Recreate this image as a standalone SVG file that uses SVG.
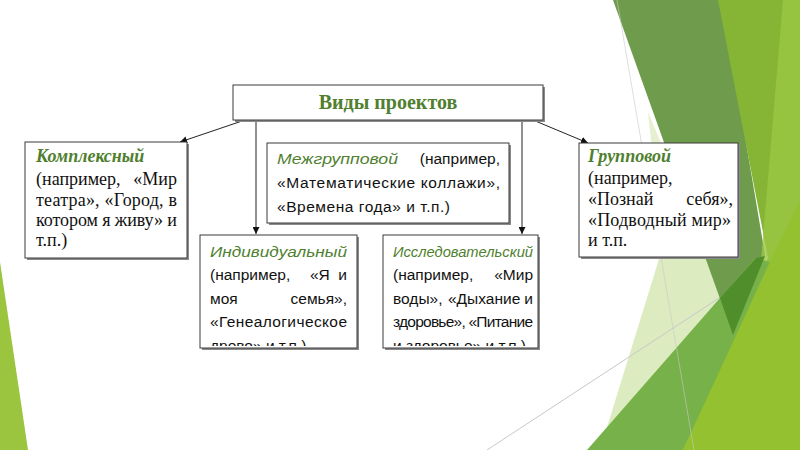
<svg xmlns="http://www.w3.org/2000/svg" width="800" height="450" viewBox="0 0 800 450">
<style>
.box{fill:#ffffff;stroke:#3a3a3a;stroke-width:1}
.frame{fill:none;stroke:#3a3a3a;stroke-width:1}
.shadow{fill:#8a8a8a}
.serif{font-family:"Liberation Serif","Times New Roman",serif;font-size:18px;fill:#111}
.sans{font-family:"Liberation Sans",Arial,sans-serif;font-size:15.5px;fill:#111}
.title{font-family:"Liberation Serif","Times New Roman",serif;font-size:20px;font-weight:bold;fill:#4F7F2F}
.hs{font-weight:bold;font-style:italic;fill:#4F7F2F}
.hi{font-style:italic;fill:#4F7F2F}
.conn{stroke:#222;stroke-width:1;fill:none;marker-end:url(#arr)}
.gl{stroke:#c8c8c8;stroke-width:1;fill:none}
</style>
<defs>
<marker id="arr" viewBox="0 0 10 10" refX="10" refY="5" markerWidth="7" markerHeight="7" markerUnits="userSpaceOnUse" orient="auto">
<path d="M0,0 L10,5 L0,10 z" fill="#111"/>
</marker>
<clipPath id="clipInd"><rect x="200" y="235" width="157" height="111"/></clipPath>
<clipPath id="clipIss"><rect x="383" y="235" width="155" height="111"/></clipPath>
</defs>
<rect width="800" height="450" fill="#ffffff"/>
<g id="background">
<polygon points="0,262 28,450 0,450" fill="#9BC53F"/>
<polygon points="705,110 600,450 760,450" fill="#DDECC0"/>
<polygon points="648,112 664,150 652,150" fill="#E6F0D0"/>
<line class="gl" x1="487" y1="450" x2="800" y2="245"/>
<polygon points="613,0 722,0 765,255 733,335" fill="#6E9C4C"/>
<polygon points="718,0 800,0 800,450 683,450 768,258" fill="#86B535"/>
<polygon points="783,0 800,0 800,450 745,450" fill="#9AC744" opacity="0.8"/>
<polygon points="587,450 755,258 770,262 683,450" fill="#77B14A"/>
<polygon points="720,298 756,258 765,256 733,335" fill="#4F8E2A"/>
<polygon points="683,450 770,262 800,200 800,450" fill="#94C12F"/>
<line class="gl" x1="617" y1="0" x2="694" y2="450" opacity="0.6"/>
</g>
<g id="connectors">
<line class="conn" x1="245" y1="120" x2="180" y2="142"/>
<line class="conn" x1="256" y1="120" x2="256" y2="234"/>
<line class="conn" x1="522" y1="120" x2="522" y2="234"/>
<line class="conn" x1="533" y1="120" x2="588" y2="143"/>
</g>
<g id="node-title">
<rect class="shadow" x="235" y="87" width="310" height="35"/>
<rect class="box" x="233" y="85" width="310" height="35"/>
<text class="title" x="388" y="109" text-anchor="middle">Виды проектов</text>
</g>
<g id="node-kompleksny">
<rect class="shadow" x="27" y="144" width="162" height="116"/>
<rect class="box" x="25" y="142" width="162" height="116"/>
<text class="serif hs" x="36" y="162">Комплексный</text>
<text class="serif" x="36" y="185">(например,</text>
<text class="serif" x="177" y="185" text-anchor="end">«Мир</text>
<text class="serif" x="36" y="206" textLength="141" lengthAdjust="spacing">театра», «Город, в</text>
<text class="serif" x="36" y="226" textLength="141" lengthAdjust="spacing">котором я живу» и</text>
<text class="serif" x="36" y="246">т.п.)</text>
</g>
<g id="node-mezhgruppovoy">
<rect class="shadow" x="269" y="145" width="242" height="80"/>
<rect class="box" x="267" y="143" width="242" height="80"/>
<text class="sans hi" x="277" y="164" textLength="121" lengthAdjust="spacingAndGlyphs">Межгрупповой</text>
<text class="sans" x="500" y="164" text-anchor="end">(например,</text>
<text class="sans" x="277" y="188" textLength="223" lengthAdjust="spacing">«Математические коллажи»,</text>
<text class="sans" x="277" y="212" textLength="173" lengthAdjust="spacing">«Времена года» и т.п.)</text>
</g>
<g id="node-gruppovoy">
<rect class="shadow" x="581" y="145" width="159" height="114"/>
<rect class="box" x="579" y="143" width="159" height="114"/>
<text class="serif hs" x="588" y="162">Групповой</text>
<text class="serif" x="588" y="184">(например,</text>
<text class="serif" x="588" y="205">«Познай</text>
<text class="serif" x="733" y="205" text-anchor="end">себя»,</text>
<text class="serif" x="588" y="226" textLength="143" lengthAdjust="spacing">«Подводный мир»</text>
<text class="serif" x="588" y="246">и т.п.</text>
</g>
<g id="node-individualny">
<rect class="shadow" x="202" y="237" width="157" height="113"/>
<rect class="box" x="200" y="235" width="157" height="113" style="stroke:none"/>
<g clip-path="url(#clipInd)">
<text class="sans hi" x="210" y="257" textLength="137" lengthAdjust="spacingAndGlyphs">Индивидуальный</text>
<text class="sans" x="210" y="280">(например,</text>
<text class="sans" x="310" y="280">«Я</text>
<text class="sans" x="347" y="280" text-anchor="end">и</text>
<text class="sans" x="210" y="303.5">моя</text>
<text class="sans" x="347" y="303.5" text-anchor="end">семья»,</text>
<text class="sans" x="210" y="327" textLength="137" lengthAdjust="spacing">«Генеалогическое</text>
<text class="sans" x="210" y="351">древо» и т.п.)</text>
</g>
<rect class="frame" x="200" y="235" width="157" height="113"/>
</g>
<g id="node-issledovatelsky">
<rect class="shadow" x="385" y="237" width="155" height="113"/>
<rect class="box" x="383" y="235" width="155" height="113" style="stroke:none"/>
<g clip-path="url(#clipIss)">
<text class="sans hi" x="393" y="257" textLength="140" lengthAdjust="spacingAndGlyphs">Исследовательский</text>
<text class="sans" x="393" y="280">(например,</text>
<text class="sans" x="533" y="280" text-anchor="end">«Мир</text>
<text class="sans" x="393" y="303.5">воды»,</text>
<text class="sans" x="448" y="303.5">«Дыхание</text>
<text class="sans" x="533" y="303.5" text-anchor="end">и</text>
<text class="sans" x="393" y="327" textLength="140" lengthAdjust="spacing">здоровье», «Питание</text>
<text class="sans" x="393" y="351">и здоровье» и т.п.)</text>
</g>
<rect class="frame" x="383" y="235" width="155" height="113"/>
</g>
</svg>
